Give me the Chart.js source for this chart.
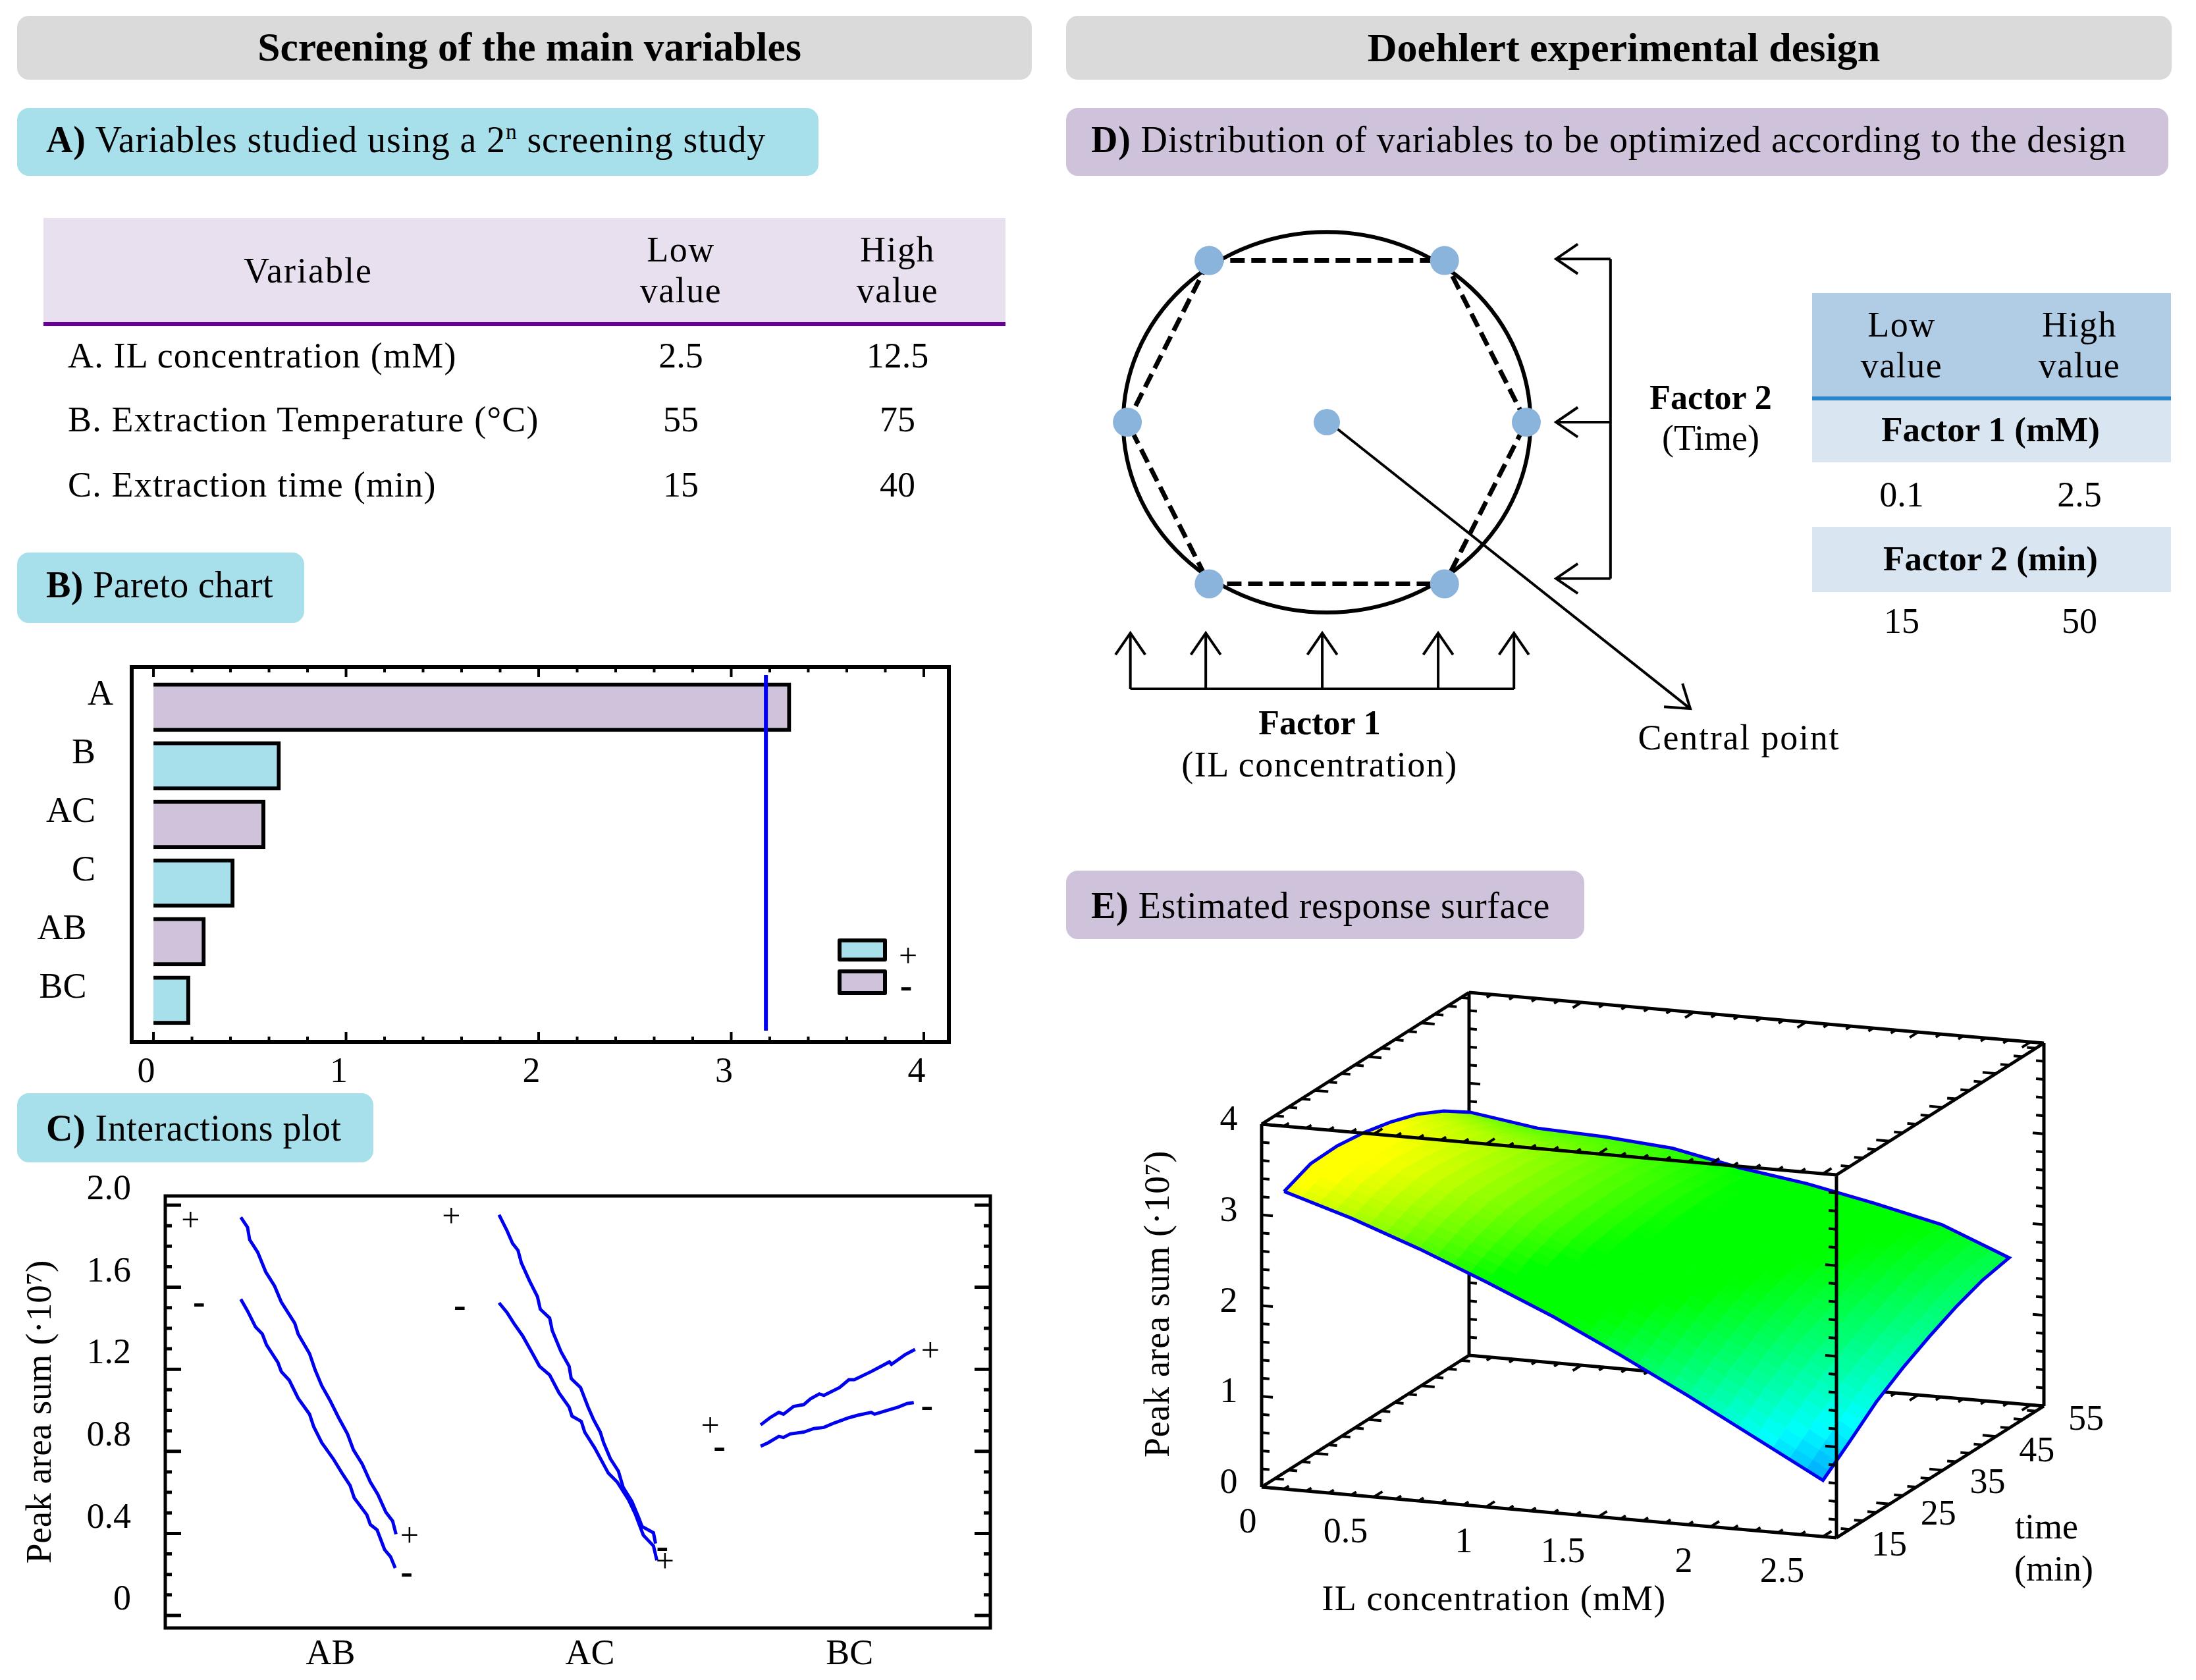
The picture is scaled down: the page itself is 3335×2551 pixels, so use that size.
<!DOCTYPE html>
<html>
<head>
<meta charset="utf-8">
<script src="https://cdn.jsdelivr.net/npm/chart.js@4/dist/chart.umd.js"></script>
<style>
html, body { margin: 0; padding: 0; background: #fff; }
#page { position: relative; width: 3335px; height: 2551px; overflow: hidden; font-family: 'Liberation Serif', serif; color: #000; }
.box { position: absolute; }
.txt { position: absolute; transform: translate(-50%, -50%); white-space: nowrap; line-height: 1; }
.left { transform: translate(0, -50%); }
canvas { position: absolute; }
sup { font-size: 60%; line-height: 0; }
</style>
</head>
<body>
<div id="page"></div>
<script>
// ---- data ----
var tableAHead = ['Variable', 'Low', 'value', 'High', 'value'];
var tableANames = ['A. IL concentration (mM)', 'B. Extraction Temperature (°C)', 'C. Extraction time (min)'];
var tableALow = ['2.5', '55', '15'];
var tableAHigh = ['12.5', '75', '40'];

var paretoLabels = ['A', 'B', 'AC', 'C', 'AB', 'BC'];
var paretoValues = [3.31, 0.66, 0.58, 0.42, 0.27, 0.19];
var paretoSigns = ['-', '+', '-', '+', '-', '+'];
var paretoLimit = 3.18;
var paretoLabelSpaces = [0, 2, 2, 2, 3, 3];

var interactionLabels = ['AB', 'AC', 'BC'];
var yTicksC = [0, 0.4, 0.8, 1.2, 1.6, 2.0];
var yMinorC = [0.1, 0.2, 0.3, 0.5, 0.6, 0.7, 0.9, 1.0, 1.1, 1.3, 1.4, 1.5, 1.7, 1.8, 1.9];

var abPlusX = [0.662, 0.688, 0.696, 0.727, 0.758, 0.792, 0.818, 0.870, 0.883, 0.927, 0.948, 0.974, 1.005, 1.039, 1.073, 1.096, 1.130, 1.161, 1.190, 1.221, 1.247, 1.260];
var abPlusY = [1.941, 1.892, 1.832, 1.771, 1.675, 1.606, 1.528, 1.424, 1.372, 1.276, 1.198, 1.120, 1.050, 0.964, 0.885, 0.807, 0.738, 0.651, 0.590, 0.503, 0.460, 0.396];
var abMinusX = [0.662, 0.688, 0.719, 0.745, 0.761, 0.805, 0.818, 0.849, 0.883, 0.927, 0.943, 0.974, 1.018, 1.052, 1.083, 1.099, 1.148, 1.161, 1.187, 1.216, 1.239, 1.257];
var abMinusY = [1.542, 1.484, 1.406, 1.372, 1.319, 1.233, 1.189, 1.146, 1.059, 0.981, 0.920, 0.842, 0.764, 0.694, 0.634, 0.573, 0.490, 0.443, 0.417, 0.321, 0.286, 0.231];
var acPlusX = [1.657, 1.688, 1.709, 1.730, 1.743, 1.774, 1.805, 1.816, 1.852, 1.862, 1.896, 1.927, 1.935, 1.971, 2.000, 2.021, 2.047, 2.060, 2.086, 2.117, 2.135, 2.169, 2.195, 2.208, 2.252, 2.260];
var acPlusY = [1.953, 1.875, 1.814, 1.780, 1.719, 1.632, 1.554, 1.493, 1.450, 1.389, 1.285, 1.215, 1.155, 1.111, 1.016, 0.955, 0.894, 0.842, 0.764, 0.703, 0.625, 0.556, 0.477, 0.434, 0.403, 0.351];
var acMinusX = [1.657, 1.688, 1.714, 1.748, 1.779, 1.813, 1.852, 1.888, 1.927, 1.938, 1.974, 1.987, 2.026, 2.078, 2.112, 2.156, 2.182, 2.213, 2.252, 2.265];
var acMinusY = [1.524, 1.476, 1.424, 1.363, 1.293, 1.215, 1.172, 1.085, 1.016, 0.972, 0.946, 0.894, 0.816, 0.694, 0.651, 0.564, 0.495, 0.391, 0.339, 0.269];
var bcPlusX = [2.665, 2.701, 2.735, 2.753, 2.792, 2.831, 2.857, 2.891, 2.909, 2.969, 3.005, 3.026, 3.091, 3.130, 3.161, 3.169, 3.221, 3.260];
var bcPlusY = [0.929, 0.964, 0.990, 0.981, 1.019, 1.028, 1.056, 1.080, 1.073, 1.111, 1.149, 1.149, 1.189, 1.215, 1.236, 1.224, 1.271, 1.297];
var bcMinusX = [2.665, 2.694, 2.735, 2.753, 2.779, 2.831, 2.870, 2.909, 2.948, 3.005, 3.039, 3.091, 3.104, 3.161, 3.195, 3.229, 3.255];
var bcMinusY = [0.825, 0.842, 0.873, 0.868, 0.885, 0.894, 0.911, 0.917, 0.938, 0.964, 0.976, 0.990, 0.981, 1.003, 1.016, 1.033, 1.038];

var signText = ['+', '-', '+', '-', '+', '-', '-', '+', '+', '-', '+', '-'];
var signX = [0.468, 0.501, 1.312, 1.301, 1.473, 1.506, 2.286, 2.296, 2.471, 2.506, 3.319, 3.306];
var signY = [1.918, 1.516, 0.378, 0.200, 1.936, 1.500, 0.325, 0.255, 0.915, 0.814, 1.280, 1.014];

// Doehlert design, coded units
var designX = [-0.59, 0.59, 1, 0.59, -0.59, -1, -0.59];
var designY = [1, 1, 0, -1, -1, 0, 1];
var centerX = [0];
var centerY = [0];
var tableDLow = ['0.1', '15'];
var tableDHigh = ['2.5', '50'];

// response surface
var surfaceConc = [0.1, 0.4, 0.7, 1.0, 1.3, 1.6, 1.9, 2.2, 2.5];
var surfaceTime = [15, 20, 25, 30, 35, 40, 45, 50];
var surfT15 = [3.28, 3.05, 2.78, 2.48, 2.16, 1.80, 1.42, 1.02, 0.62];
var surfT20 = [3.40, 3.17, 2.92, 2.64, 2.34, 2.01, 1.66, 1.28, 0.86];
var surfT25 = [3.41, 3.23, 3.00, 2.75, 2.48, 2.18, 1.85, 1.50, 1.11];
var surfT30 = [3.37, 3.20, 3.00, 2.78, 2.54, 2.28, 1.99, 1.66, 1.30];
var surfT35 = [3.30, 3.14, 2.97, 2.78, 2.58, 2.35, 2.09, 1.80, 1.46];
var surfT40 = [3.20, 3.05, 2.92, 2.76, 2.59, 2.39, 2.18, 1.94, 1.60];
var surfT45 = [3.05, 2.90, 2.82, 2.71, 2.56, 2.41, 2.23, 2.03, 1.71];
var surfT50 = [2.85, 2.74, 2.71, 2.65, 2.50, 2.39, 2.24, 2.07, 1.77];
var surface3dZ = [surfT15, surfT20, surfT25, surfT30, surfT35, surfT40, surfT45, surfT50];
var concTicks = [0, 0.5, 1, 1.5, 2, 2.5];
var concLabelDx = [-21, -43, -34, -54, -41, -62];
var timeTicks = [15, 25, 35, 45, 55];
var areaTicks = [0, 1, 2, 3, 4];

// ---- colours ----
var LAV = '#CFC2DB', CYAN = '#A7DFEA', GREY = '#DADADA', BLUE = '#0000F0';
var FONT = "'Liberation Serif'";
Chart.defaults.font.family = FONT;
Chart.defaults.color = '#000';
Chart.defaults.animation = false;
Chart.defaults.devicePixelRatio = 1;

// ---- page furniture ----
var page = document.getElementById('page');
function box(x0, y0, x1, y1, color, radius) {
    var d = document.createElement('div');
    d.className = 'box';
    d.style.cssText = 'left:' + x0 + 'px;top:' + y0 + 'px;width:' + (x1 - x0) + 'px;height:' + (y1 - y0) + 'px;background:' + color + ';border-radius:' + (radius || 0) + 'px';
    page.appendChild(d);
    return d;
}
function put(html, x, y, size, opts) {
    opts = opts || {};
    var d = document.createElement('div');
    d.className = 'txt' + (opts.left ? ' left' : '');
    d.style.cssText = 'left:' + x + 'px;top:' + y + 'px;font-size:' + size + 'px;letter-spacing:' + (opts.ls || 0) + 'px;font-weight:' + (opts.bold ? 'bold' : 'normal');
    d.innerHTML = html;
    page.appendChild(d);
}

box(26, 24, 1567, 121, GREY, 18);
box(1619, 24, 3298, 121, GREY, 18);
put('Screening of the main variables', 804, 72, 61.5, { bold: true });
put('Doehlert experimental design', 2466, 72, 62, { bold: true });

box(26, 164, 1243, 267, CYAN, 18);
put('<b>A)</b> Variables studied using a 2<sup>n</sup> screening study', 70, 212, 56, { left: true, ls: 0.85 });
box(26, 839, 462, 946, CYAN, 18);
put('<b>B)</b> Pareto chart', 70, 888, 56, { left: true, ls: 0.4 });
box(26, 1660, 567, 1765, CYAN, 18);
put('<b>C)</b> Interactions plot', 70, 1713, 56, { left: true, ls: 0.5 });
box(1619, 164, 3293, 267, LAV, 18);
put('<b>D)</b> Distribution of variables to be optimized according to the design', 1657, 212, 56, { left: true, ls: 0.8 });
box(1619, 1322, 2406, 1426, LAV, 18);
put('<b>E)</b> Estimated response surface', 1657, 1375, 56, { left: true, ls: 0.6 });

// table A
box(66, 331, 1527, 489, '#E8E0EE');
box(66, 489, 1527, 495, '#660099');
put(tableAHead[0], 468, 411, 54, { ls: 2 });
put(tableAHead[1], 1034, 379, 54, { ls: 1.5 });
put(tableAHead[2], 1034, 441, 54, { ls: 1.5 });
put(tableAHead[3], 1363, 379, 54, { ls: 1.5 });
put(tableAHead[4], 1363, 441, 54, { ls: 1.5 });
var rowYA = [540, 637, 736];
tableANames.forEach(function (name, i) {
    put(name, 103, rowYA[i], 54, { left: true, ls: 1.2 });
    put(tableALow[i], 1034, rowYA[i], 54);
    put(tableAHigh[i], 1363, rowYA[i], 54);
});

// table D
box(2752, 445, 3297, 602, '#B1CDE5');
box(2752, 602, 3297, 608, '#2A86C8');
box(2752, 608, 3297, 702, '#D9E6F2');
box(2752, 800, 3297, 899, '#D9E6F2');
put('Low', 2888, 493, 54, { ls: 1.5 });
put('value', 2888, 555, 54, { ls: 1.5 });
put('High', 3158, 493, 54, { ls: 1.5 });
put('value', 3158, 555, 54, { ls: 1.5 });
put('Factor 1 (mM)', 3023, 652, 53, { bold: true });
put(tableDLow[0], 2888, 751, 54);
put(tableDHigh[0], 3158, 751, 54);
put('Factor 2 (min)', 3023, 848, 53, { bold: true });
put(tableDLow[1], 2888, 943, 54);
put(tableDHigh[1], 3158, 943, 54);
put('<b>Factor 2</b>', 2598, 604, 52);
put('(Time)', 2598, 665, 54);
put('<b>Factor 1</b>', 2004, 1098, 52);
put('(IL concentration)', 2004, 1161, 54, { ls: 1.5 });
put('Central point', 2641, 1120, 54, { ls: 1.8 });

// ---- chart helpers ----
function addCanvas(x, y, w, h) {
    var c = document.createElement('canvas');
    c.width = w;
    c.height = h;
    c.style.left = x + 'px';
    c.style.top = y + 'px';
    page.appendChild(c);
    return c;
}
function points(xs, ys) {
    return xs.map(function (x, i) { return { x: x, y: ys[i] }; });
}
// closed frame with inward tick marks on both opposite sides
function framePlugin(o) {
    return {
        id: 'frame',
        afterDatasetsDraw: function (chart) {
            var a = chart.chartArea, c = chart.ctx, sx = chart.scales.x, sy = chart.scales.y;
            c.save();
            c.strokeStyle = '#000';
            c.lineWidth = o.lineWidth;
            c.strokeRect(a.left, a.top, a.right - a.left, a.bottom - a.top);
            function ticks(list, len) {
                (list.x || []).forEach(function (v) {
                    var p = sx.getPixelForValue(v);
                    c.beginPath(); c.moveTo(p, a.top); c.lineTo(p, a.top + len);
                    c.moveTo(p, a.bottom); c.lineTo(p, a.bottom - len); c.stroke();
                });
                (list.y || []).forEach(function (v) {
                    var p = sy.getPixelForValue(v);
                    c.beginPath(); c.moveTo(a.left, p); c.lineTo(a.left + len, p);
                    c.moveTo(a.right, p); c.lineTo(a.right - len, p); c.stroke();
                });
            }
            c.lineWidth = o.tickWidth;
            ticks(o.major, o.majorLen);
            ticks(o.minor, o.minorLen);
            c.restore();
        }
    };
}
// fixes the plot area: axis box size only, no extra room for half labels
function fitX(h) { return function (s) { s.height = h; s.paddingLeft = 0; s.paddingRight = 0; }; }
function fitY(w) { return function (s) { s.width = w; s.paddingTop = 0; s.paddingBottom = 0; }; }

// ---- B) Pareto chart ----
var paretoData = paretoLabels.map(function (l, i) { return { x: paretoValues[i], y: i + 1 }; });
new Chart(addCanvas(30, 980, 1434, 690), {
    type: 'bar',
    data: {
        datasets: [
            {
                type: 'line',
                data: [{ x: paretoLimit, y: 0.45 }, { x: paretoLimit, y: 6.52 }],
                borderColor: BLUE,
                borderWidth: 6,
                pointRadius: 0,
                order: 0
            },
            {
                data: paretoData,
                backgroundColor: paretoSigns.map(function (s) { return s === '+' ? CYAN : LAV; }),
                borderColor: '#000',
                borderWidth: 6,
                barThickness: 74,
                order: 1
            }
        ]
    },
    options: {
        indexAxis: 'y',
        responsive: false,
        layout: { padding: { left: 0, right: 23, top: 33, bottom: 0 } },
        plugins: { legend: { display: false }, tooltip: { enabled: false } },
        scales: {
            x: {
                type: 'linear', min: -0.113, max: 4.13, bounds: 'data',
                grid: { display: false, drawTicks: false }, border: { display: false },
                afterBuildTicks: function (s) { s.ticks = [0, 1, 2, 3, 4].map(function (v) { return { value: v }; }); },
                afterFit: fitX(88),
                ticks: { font: { size: 54 }, labelOffset: -11, padding: 14, maxRotation: 0, autoSkip: false }
            },
            y: {
                type: 'linear', reverse: true, min: 0.315, max: 6.71, bounds: 'data', offset: false,
                grid: { display: false, drawTicks: false, offset: false }, border: { display: false },
                afterBuildTicks: function (s) { s.ticks = paretoLabels.map(function (l, i) { return { value: i + 1 }; }); },
                afterFit: fitY(170),
                ticks: {
                    font: { size: 54 }, labelOffset: -18, padding: 28, autoSkip: false,
                    callback: function (v) { return paretoLabels[v - 1] + ' '.repeat(paretoLabelSpaces[v - 1]); }
                }
            }
        }
    },
    plugins: [framePlugin({
        lineWidth: 6, tickWidth: 4, majorLen: 15, minorLen: 8,
        major: { x: [0, 1, 2, 3, 4] },
        minor: { x: [0.2, 0.4, 0.6, 0.8, 1.2, 1.4, 1.6, 1.8, 2.2, 2.4, 2.6, 2.8, 3.2, 3.4, 3.6, 3.8] }
    })]
});
// pareto legend
var sw1 = box(1272, 1425, 1347, 1460, CYAN); sw1.style.border = '6px solid #000'; sw1.style.boxSizing = 'border-box'; sw1.style.borderRadius = '3px';
var sw2 = box(1272, 1472, 1347, 1511, LAV); sw2.style.border = '6px solid #000'; sw2.style.boxSizing = 'border-box'; sw2.style.borderRadius = '3px';
put('+', 1379, 1451, 50);
put('-', 1376, 1496, 56, { bold: true });

// ---- C) Interactions plot ----
function interLine(xs, ys) {
    return { data: points(xs, ys), borderColor: BLUE, borderWidth: 5, pointRadius: 0, tension: 0, showLine: true };
}
new Chart(addCanvas(30, 1770, 1494, 780), {
    type: 'scatter',
    data: {
        datasets: [
            interLine(abPlusX, abPlusY), interLine(abMinusX, abMinusY),
            interLine(acPlusX, acPlusY), interLine(acMinusX, acMinusY),
            interLine(bcPlusX, bcPlusY), interLine(bcMinusX, bcMinusY)
        ]
    },
    options: {
        responsive: false,
        layout: { padding: { left: 0, right: 20, top: 46, bottom: 0 } },
        plugins: { legend: { display: false }, tooltip: { enabled: false } },
        scales: {
            x: {
                type: 'linear', min: 0.371, max: 3.55, bounds: 'data',
                grid: { display: false, drawTicks: false }, border: { display: false },
                afterBuildTicks: function (s) { s.ticks = [1, 2, 3].map(function (v) { return { value: v }; }); },
                afterFit: fitX(78),
                ticks: {
                    font: { size: 54 }, padding: 8, labelOffset: 3, autoSkip: false, maxRotation: 0,
                    callback: function (v) { return interactionLabels[v - 1]; }
                }
            },
            y: {
                type: 'linear', min: -0.061, max: 2.045, bounds: 'data',
                grid: { display: false, drawTicks: false }, border: { display: false },
                afterBuildTicks: function (s) { s.ticks = yTicksC.map(function (v) { return { value: v }; }); },
                afterFit: fitY(221),
                title: { display: true, text: 'Peak area sum (·10⁷)', font: { size: 55 }, padding: { top: 0, bottom: 0 } },
                ticks: {
                    font: { size: 54 }, labelOffset: -23, padding: 52, autoSkip: false,
                    callback: function (v) { return v === 0 ? '0' : v.toFixed(1); }
                }
            }
        }
    },
    plugins: [
        framePlugin({
            lineWidth: 5, tickWidth: 5, majorLen: 24, minorLen: 10,
            major: { y: yTicksC }, minor: { y: yMinorC }
        }),
        {
            id: 'signs',
            afterDatasetsDraw: function (chart) {
                var c = chart.ctx;
                c.save();
                c.fillStyle = '#000';
                c.textAlign = 'center';
                c.textBaseline = 'middle';
                signText.forEach(function (t, i) {
                    c.font = (t === '+' ? '50px ' : 'bold 56px ') + FONT;
                    c.fillText(t, chart.scales.x.getPixelForValue(signX[i]), chart.scales.y.getPixelForValue(signY[i]));
                });
                c.restore();
            }
        }
    ]
});

// ---- D) Doehlert design ----
function arrow(c, x0, y0, x1, y1) {
    var a = Math.atan2(y1 - y0, x1 - x0), L = 40;
    c.beginPath();
    c.moveTo(x0, y0);
    c.lineTo(x1, y1);
    c.moveTo(x1 - L * Math.cos(a - 0.6), y1 - L * Math.sin(a - 0.6));
    c.lineTo(x1, y1);
    c.lineTo(x1 - L * Math.cos(a + 0.6), y1 - L * Math.sin(a + 0.6));
    c.stroke();
}
var bracketRightY = [1.01, 0, -0.967];
var bracketBottomX = [-0.985, -0.607, -0.023, 0.558, 0.938];
new Chart(addCanvas(1660, 320, 960, 800), {
    type: 'scatter',
    data: {
        datasets: [
            { data: points(centerX, centerY), backgroundColor: '#8AB4DC', borderWidth: 0, pointRadius: 20, order: 0 },
            { data: points(designX, designY), backgroundColor: '#8AB4DC', pointBorderWidth: 0, pointRadius: 22, showLine: false, order: 1 },
            { data: points(designX, designY), borderColor: '#000', borderWidth: 7, borderDash: [22, 10], pointRadius: 0, showLine: true, order: 2 }
        ]
    },
    options: {
        responsive: false,
        layout: { padding: 0, autoPadding: false },
        plugins: { legend: { display: false }, tooltip: { enabled: false } },
        scales: {
            x: { type: 'linear', display: false, min: -1.172, max: 1.997 },
            y: { type: 'linear', display: false, min: -1.951, max: 1.308 }
        }
    },
    plugins: [{
        id: 'design',
        beforeDatasetsDraw: function (chart) {
            var c = chart.ctx, sx = chart.scales.x, sy = chart.scales.y;
            function X(u) { return sx.getPixelForValue(u); }
            function Y(v) { return sy.getPixelForValue(v); }
            c.save();
            c.strokeStyle = '#000';
            c.lineWidth = 6;
            c.beginPath();
            c.ellipse(X(0), Y(0), X(1.021) - X(0), Y(0) - Y(1.177), 0, 0, Math.PI * 2);
            c.stroke();
            c.lineWidth = 4;
            bracketRightY.forEach(function (v) { arrow(c, X(1.422), Y(v), X(1.149), Y(v)); });
            c.beginPath(); c.moveTo(X(1.422), Y(bracketRightY[0])); c.lineTo(X(1.422), Y(bracketRightY[2])); c.stroke();
            bracketBottomX.forEach(function (u) { arrow(c, X(u), Y(-1.65), X(u), Y(-1.304)); });
            c.beginPath(); c.moveTo(X(bracketBottomX[0]), Y(-1.65)); c.lineTo(X(bracketBottomX[4]), Y(-1.65)); c.stroke();
            arrow(c, X(0.039), Y(-0.028), X(1.822), Y(-1.772));
            c.restore();
        }
    }]
});

// ---- E) Response surface ----
var CONC_MAX = 2.56, TIME_MIN = 15, TIME_MAX = 54, AREA_MAX = 4;
function project(conc, time, area) {
    var a = conc / CONC_MAX, b = (time - TIME_MIN) / (TIME_MAX - TIME_MIN), h = area / AREA_MAX;
    return { x: 1916 + 873 * a + 315 * b, y: 2258 + 77 * a - 200 * b - 551 * h };
}
function segments(list) {
    var out = [];
    list.forEach(function (s) { out.push(project(s[0], s[1], s[2]), project(s[3], s[4], s[5]), { x: null, y: null }); });
    return out;
}
var XM = CONC_MAX, T0 = TIME_MIN, TM = TIME_MAX, ZM = AREA_MAX;
var frontEdges = [[0, T0, ZM, XM, T0, ZM], [XM, T0, 0, XM, T0, ZM], [0, T0, 0, XM, T0, 0], [0, T0, 0, 0, T0, ZM], [XM, T0, ZM, XM, TM, ZM], [XM, T0, 0, XM, TM, 0]];
var backEdges = [[0, TM, ZM, XM, TM, ZM], [0, TM, 0, XM, TM, 0], [0, TM, 0, 0, TM, ZM], [0, T0, 0, 0, TM, 0], [0, T0, ZM, 0, TM, ZM], [XM, TM, 0, XM, TM, ZM]];
function tickSegs() {
    var front = [], back = [], i, v, d;
    for (i = 0; i <= 25; i++) {   // concentration, every 0.1
        v = i / 10;
        d = i % 5 === 0 ? 1.6 : 0.9;
        front.push([v, T0, 0, v, T0 + d, 0], [v, T0, ZM, v, T0 + d, ZM]);
        back.push([v, TM, 0, v, TM - d, 0], [v, TM, ZM, v, TM - d, ZM]);
    }
    for (i = 0; i <= 15; i++) {   // time, every 2.5 min
        v = 15 + i * 2.5;
        d = i % 4 === 0 ? 0.06 : 0.04;
        front.push([XM, v, 0, XM - d, v, 0], [XM, v, ZM, XM - d, v, ZM]);
        back.push([0, v, 0, d, v, 0], [0, v, ZM, d, v, ZM]);
    }
    for (i = 0; i <= 20; i++) {   // area, every 0.2
        v = i / 5;
        d = i % 5 === 0 ? 0.05 : 0.035;
        front.push([XM, T0, v, XM - d, T0, v], [0, T0, v, d, T0, v]);
        back.push([0, TM, v, d, TM, v], [XM, TM, v, XM - d, TM, v]);
    }
    return { front: front, back: back };
}
var ticks3d = tickSegs();
// surface outline, walked around the measured grid
var outline = [];
surfaceConc.forEach(function (c, i) { outline.push(project(c, surfaceTime[0], surfT15[i])); });
surfaceTime.forEach(function (t, j) { outline.push(project(2.5, t, surface3dZ[j][8])); });
for (var oi = 8; oi >= 0; oi--) outline.push(project(surfaceConc[oi], 50, surfT50[oi]));
for (var oj = 7; oj >= 0; oj--) outline.push(project(0.1, surfaceTime[oj], surface3dZ[oj][0]));

var colorStops = [[0.4, 0, 110, 255], [1.0, 0, 255, 255], [2.1, 0, 255, 0], [2.5, 0, 255, 0], [3.3, 255, 255, 0]];
function areaColor(z) {
    if (z <= colorStops[0][0]) return 'rgb(0,110,255)';
    for (var i = 1; i < colorStops.length; i++) {
        if (z <= colorStops[i][0]) {
            var a = colorStops[i - 1], b = colorStops[i], k = (z - a[0]) / (b[0] - a[0]);
            return 'rgb(' + Math.round(a[1] + (b[1] - a[1]) * k) + ',' + Math.round(a[2] + (b[2] - a[2]) * k) + ',' + Math.round(a[3] + (b[3] - a[3]) * k) + ')';
        }
    }
    return 'rgb(255,255,0)';
}
new Chart(addCanvas(1730, 1480, 1600, 1060), {
    type: 'scatter',
    data: {
        datasets: [
            { data: segments(frontEdges), borderColor: '#000', borderWidth: 5, pointRadius: 0, showLine: true, spanGaps: false },
            { data: segments(ticks3d.front), borderColor: '#000', borderWidth: 4, pointRadius: 0, showLine: true, spanGaps: false },
            { data: outline, borderColor: BLUE, borderWidth: 5, pointRadius: 0, showLine: true },
            { data: segments(backEdges), borderColor: '#000', borderWidth: 5, pointRadius: 0, showLine: true, spanGaps: false },
            { data: segments(ticks3d.back), borderColor: '#000', borderWidth: 4, pointRadius: 0, showLine: true, spanGaps: false }
        ]
    },
    options: {
        responsive: false,
        layout: { padding: 0, autoPadding: false },
        plugins: { legend: { display: false }, tooltip: { enabled: false } },
        scales: {
            x: { type: 'linear', display: false, min: 1730, max: 3330 },
            y: { type: 'linear', display: false, reverse: true, min: 1480, max: 2540 }
        }
    },
    plugins: [{
        id: 'surface',
        beforeDatasetDraw: function (chart, args) {
            if (args.index !== 2) return;
            var c = chart.ctx, sx = chart.scales.x, sy = chart.scales.y, SUB = 4;
            function pix(p) { return [sx.getPixelForValue(p.x), sy.getPixelForValue(p.y)]; }
            c.save();
            c.lineWidth = 1;
            for (var j = surfaceTime.length - 2; j >= 0; j--) {
                for (var s = SUB - 1; s >= 0; s--) {
                    for (var i = 0; i < surfaceConc.length - 1; i++) {
                        for (var r = 0; r < SUB; r++) {
                            var at = function (ri, si) {
                                var u = ri / SUB, v = si / SUB;
                                var z = (surface3dZ[j][i] * (1 - u) + surface3dZ[j][i + 1] * u) * (1 - v) + (surface3dZ[j + 1][i] * (1 - u) + surface3dZ[j + 1][i + 1] * u) * v;
                                var cx = surfaceConc[i] + (surfaceConc[i + 1] - surfaceConc[i]) * u;
                                var ct = surfaceTime[j] + (surfaceTime[j + 1] - surfaceTime[j]) * v;
                                return { p: pix(project(cx, ct, z)), z: z };
                            };
                            var a = at(r, s), b = at(r + 1, s), d = at(r + 1, s + 1), e = at(r, s + 1);
                            var col = areaColor((a.z + b.z + d.z + e.z) / 4);
                            c.fillStyle = col;
                            c.strokeStyle = col;
                            c.beginPath();
                            c.moveTo(a.p[0], a.p[1]); c.lineTo(b.p[0], b.p[1]); c.lineTo(d.p[0], d.p[1]); c.lineTo(e.p[0], e.p[1]);
                            c.closePath();
                            c.fill();
                            c.stroke();
                        }
                    }
                }
            }
            c.restore();
        },
        afterDatasetsDraw: function (chart) {
            var c = chart.ctx, sx = chart.scales.x, sy = chart.scales.y;
            function label(t, x, y) { c.fillText(t, sx.getPixelForValue(x), sy.getPixelForValue(y)); }
            c.save();
            c.fillStyle = '#000';
            c.textAlign = 'center';
            c.textBaseline = 'middle';
            c.font = '54px ' + FONT;
            areaTicks.forEach(function (v) { var p = project(0, T0, v); label(String(v), p.x - 50, p.y - 5); });
            concTicks.forEach(function (v, i) { var p = project(v, T0, 0); label(String(v), p.x + concLabelDx[i], p.y + 55); });
            timeTicks.forEach(function (v) { var p = project(XM, v, 0); label(String(v), p.x + 80 - (v - 15) * 0.6, p.y + 13 + (v - 15) * 0.36); });
            label('time', 3108, 2322);
            label('(min)', 3119, 2386);
            c.letterSpacing = '1.2px';
            label('IL concentration (mM)', 2269, 2431);
            c.save();
            c.translate(sx.getPixelForValue(1761), sy.getPixelForValue(1980));
            c.rotate(-Math.PI / 2);
            c.letterSpacing = '0.7px';
            c.fillText('Peak area sum (·10⁷)', 0, 0);
            c.restore();
            c.restore();
        }
    }]
});
</script>
</body>
</html>
